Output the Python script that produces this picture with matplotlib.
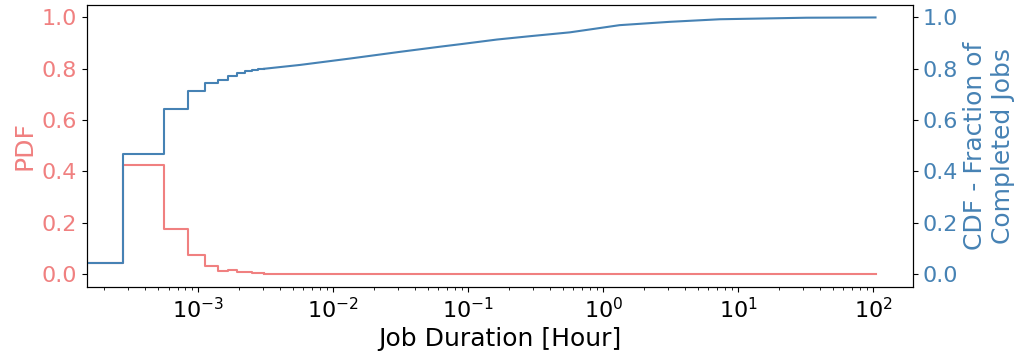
import numpy as np
import matplotlib
matplotlib.use("Agg")
import matplotlib.pyplot as plt

PDF_COLOR = "#F08080"
CDF_COLOR = "#4682B4"

# short jobs are binned per second (edges in seconds)
early_edges_s = [0.5, 1, 2, 3, 4, 5, 6, 7, 8, 9, 10, 11]
early_pdf = [0.043, 0.425, 0.175, 0.073, 0.030, 0.011, 0.017, 0.010, 0.0066, 0.004, 0.0035]
early_cdf = [0.043, 0.467, 0.642, 0.715, 0.744, 0.756, 0.772, 0.782, 0.790, 0.795, 0.798]

# longer jobs, sampled along the duration axis (hours)
tail_hours = [3.06e-3, 5.65e-3, 1.33e-2, 3.11e-2, 6.15e-2, 9.10e-2, 0.163, 0.286,
              0.565, 0.865, 1.32, 3.11, 7.29, 32.0, 104.0]
tail_cdf = [0.800, 0.815, 0.840, 0.866, 0.886, 0.897, 0.914, 0.927,
            0.942, 0.956, 0.970, 0.983, 0.993, 0.999, 1.000]
tail_pdf = [0.002, 0.0015, 0.001, 0.0005, 0.0003, 0.0002, 0.0001, 0.0001,
            0.0, 0.0, 0.0, 0.0, 0.0, 0.0, 0.0]

edges_h = np.array(early_edges_s) / 3600.0

fig = plt.figure(figsize=(10.22, 3.56), dpi=100)
ax = fig.add_axes([0.085, 0.194, 0.808, 0.793])
ax2 = ax.twinx()

# PDF on the left axis
ax.plot(edges_h, early_pdf + [early_pdf[-1]], drawstyle="steps-post",
        color=PDF_COLOR, lw=1.5)
ax.plot(tail_hours, tail_pdf, drawstyle="steps-post", color=PDF_COLOR, lw=1.5)

# CDF on the right axis
ax2.plot(edges_h, early_cdf + [early_cdf[-1]], drawstyle="steps-post",
         color=CDF_COLOR, lw=1.5)
ax2.plot(tail_hours, tail_cdf, color=CDF_COLOR, lw=1.5)

ax.set_xscale("log")
ax.set_xlim(1.49e-4, 196)
ax.set_ylim(-0.05, 1.05)
ax2.set_ylim(-0.05, 1.05)
ax.set_yticks(np.arange(0, 1.01, 0.2))
ax2.set_yticks(np.arange(0, 1.01, 0.2))

ax.set_xlabel("Job Duration [Hour]", fontsize=18)
ax.set_ylabel("PDF", fontsize=18, color=PDF_COLOR)
ax2.set_ylabel("CDF - Fraction of\nCompleted Jobs", fontsize=18, color=CDF_COLOR)

ax.tick_params(axis="x", labelsize=16)
ax.tick_params(axis="y", labelsize=16, labelcolor=PDF_COLOR)
ax2.tick_params(axis="y", labelsize=16, labelcolor=CDF_COLOR)

fig.savefig("out.png", dpi=100)
